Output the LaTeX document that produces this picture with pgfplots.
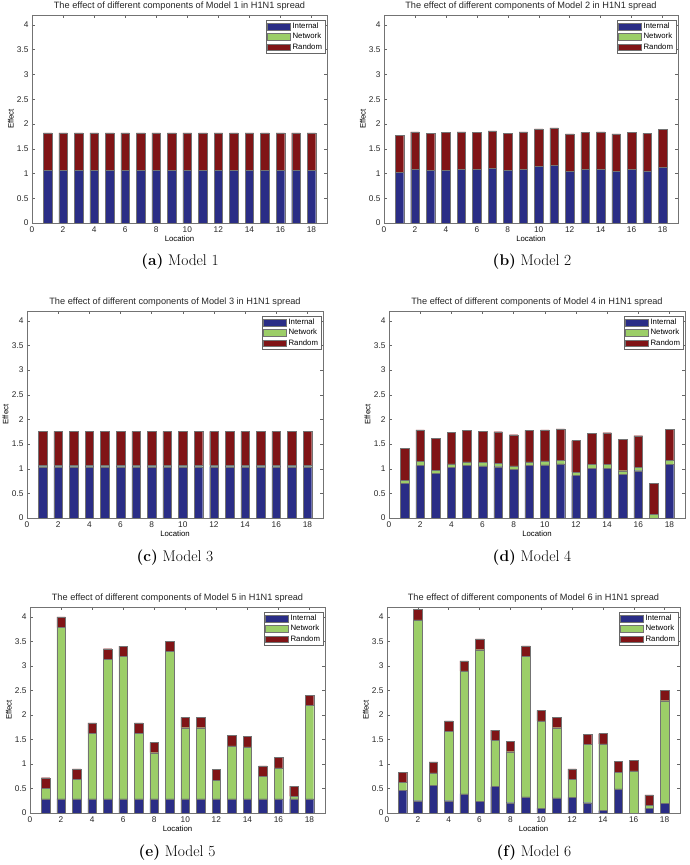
\documentclass[border=0pt]{standalone}
\usepackage{fontspec}
\usepackage{pgfplots}
\usepackage{pgfplotstable}
\pgfplotsset{compat=1.18}
\newfontfamily\arialfont{Liberation Sans}

\definecolor{cint}{RGB}{42,45,134}
\definecolor{cnet}{RGB}{156,206,104}
\definecolor{crnd}{RGB}{128,20,22}

% segment heights: internal, network, random
\pgfplotstableread{
x int net rnd
1 1.07 0 0.75
2 1.07 0 0.75
3 1.07 0 0.75
4 1.07 0 0.75
5 1.07 0 0.75
6 1.07 0 0.75
7 1.07 0 0.75
8 1.07 0 0.75
9 1.07 0 0.75
10 1.07 0 0.75
11 1.07 0 0.75
12 1.07 0 0.75
13 1.07 0 0.75
14 1.07 0 0.75
15 1.07 0 0.75
16 1.07 0 0.75
17 1.07 0 0.75
18 1.07 0 0.75
}\mA
\pgfplotstableread{
x int net rnd
1 1.02 0 0.75
2 1.09 0 0.75
3 1.06 0 0.75
4 1.07 0 0.76
5 1.09 0 0.75
6 1.08 0 0.75
7 1.10 0 0.76
8 1.06 0 0.75
9 1.09 0 0.75
10 1.14 0 0.76
11 1.16 0 0.76
12 1.04 0 0.76
13 1.08 0 0.75
14 1.09 0 0.75
15 1.04 0 0.76
16 1.08 0 0.75
17 1.05 0 0.76
18 1.13 0 0.76
}\mB
\pgfplotstableread{
x int net rnd
1 1.04 0.03 0.69
2 1.04 0.03 0.69
3 1.04 0.03 0.69
4 1.04 0.03 0.69
5 1.04 0.03 0.69
6 1.04 0.03 0.69
7 1.04 0.03 0.69
8 1.04 0.03 0.69
9 1.04 0.03 0.69
10 1.04 0.03 0.69
11 1.04 0.03 0.69
12 1.04 0.03 0.69
13 1.04 0.03 0.69
14 1.04 0.03 0.69
15 1.04 0.03 0.69
16 1.04 0.03 0.69
17 1.04 0.03 0.69
18 1.04 0.03 0.69
}\mC
\pgfplotstableread{
x int net rnd
1 0.70 0.07 0.64
2 1.07 0.08 0.64
3 0.90 0.07 0.64
4 1.03 0.07 0.64
5 1.07 0.07 0.64
6 1.06 0.07 0.63
7 1.04 0.07 0.64
8 0.99 0.07 0.63
9 1.07 0.07 0.64
10 1.08 0.08 0.63
11 1.10 0.07 0.64
12 0.86 0.07 0.64
13 1.01 0.08 0.63
14 1.01 0.08 0.64
15 0.89 0.07 0.64
16 0.96 0.07 0.64
17 0.00 0.08 0.63
18 1.09 0.08 0.63
}\mD
\pgfplotstableread{
x int net rnd
1 0.29 0.21 0.22
2 0.29 3.49 0.22
3 0.29 0.40 0.21
4 0.29 1.33 0.22
5 0.29 2.84 0.22
6 0.29 2.90 0.21
7 0.29 1.33 0.22
8 0.29 0.94 0.21
9 0.29 3.00 0.21
10 0.29 1.45 0.21
11 0.29 1.45 0.21
12 0.29 0.37 0.23
13 0.29 1.08 0.21
14 0.29 1.06 0.21
15 0.29 0.46 0.21
16 0.29 0.63 0.21
17 0.29 0.05 0.21
18 0.29 1.90 0.21
}\mE
\pgfplotstableread{
x int net rnd
1 0.46 0.16 0.21
2 0.25 3.69 0.21
3 0.56 0.26 0.22
4 0.25 1.41 0.22
5 0.39 2.51 0.20
6 0.24 3.09 0.22
7 0.54 0.94 0.21
8 0.21 1.04 0.21
9 0.33 2.87 0.21
10 0.10 1.78 0.21
11 0.31 1.43 0.21
12 0.32 0.37 0.21
13 0.21 1.19 0.21
14 0.05 1.36 0.21
15 0.49 0.34 0.22
16 0.00 0.86 0.22
17 0.10 0.05 0.22
18 0.20 2.09 0.21
}\mF

\pgfplotsset{
  effect/.style={
    scale only axis, anchor=south west,
    ybar stacked, bar width=0.55,
    xmin=0, xmax=19, ymin=0, ymax=4.2,
    xtick={0,2,4,6,8,10,12,14,16,18},
    ytick={0,0.5,1,1.5,2,2.5,3,3.5,4},
    tick pos=both, tick align=inside, major tick length=3pt,
    tick style={black!60, line width=0.4pt},
    axis line style={black!55, line width=0.5pt},
    ticklabel style={font=\arialfont\fontsize{8.3}{10}\selectfont, text=black!85},
    /pgf/number format/assume math mode=true,
    yticklabel style={/pgf/number format/fixed},
    every axis title shift=1pt,
    title style={font=\arialfont\fontsize{9.2}{11}\selectfont, text=black!85},
    xlabel={Location}, ylabel={Effect},
    xlabel style={font=\arialfont\fontsize{7.8}{9}\selectfont, at={(axis description cs:0.5,-0.077)}, anchor=center},
    ylabel style={font=\arialfont\fontsize{7.8}{9}\selectfont, at={(axis description cs:-0.072,0.5)}, anchor=center},
    legend style={font=\arialfont\fontsize{7.8}{9}\selectfont, at={(0.994,0.976)}, anchor=north east,
      draw=black!60, inner sep=1pt, row sep=-1pt},
    legend cell align=left,
    legend image code/.code={\draw[#1] (0pt,-3.3pt) rectangle (23pt,3.3pt);},
  },
  pint/.style={fill=cint, draw=black!55, line width=0.3pt},
  pnet/.style={fill=cnet, draw=black!55, line width=0.3pt},
  prnd/.style={fill=crnd, draw=black!55, line width=0.3pt},
}

\begin{document}
\begin{tikzpicture}
\useasboundingbox (0,0) rectangle (689pt,865pt);

\begin{axis}[effect, at={(32pt,642pt)}, width=295pt, height=208pt,
  title={The effect of different components of Model 1 in H1N1 spread}]
\addplot[pint] table[x=x,y=int]{\mA};
\addplot[pnet] table[x=x,y=net]{\mA};
\addplot[prnd] table[x=x,y=rnd]{\mA};
\legend{Internal,Network,Random}
\end{axis}

\begin{axis}[effect, at={(384pt,642pt)}, width=294pt, height=208pt,
  title={The effect of different components of Model 2 in H1N1 spread}]
\addplot[pint] table[x=x,y=int]{\mB};
\addplot[pnet] table[x=x,y=net]{\mB};
\addplot[prnd] table[x=x,y=rnd]{\mB};
\legend{Internal,Network,Random}
\end{axis}

\begin{axis}[effect, at={(27pt,347pt)}, width=296pt, height=207pt,
  title={The effect of different components of Model 3 in H1N1 spread}]
\addplot[pint] table[x=x,y=int]{\mC};
\addplot[pnet] table[x=x,y=net]{\mC};
\addplot[prnd] table[x=x,y=rnd]{\mC};
\legend{Internal,Network,Random}
\end{axis}

\begin{axis}[effect, at={(389pt,347pt)}, width=296pt, height=207pt,
  title={The effect of different components of Model 4 in H1N1 spread}]
\addplot[pint] table[x=x,y=int]{\mD};
\addplot[pnet] table[x=x,y=net]{\mD};
\addplot[prnd] table[x=x,y=rnd]{\mD};
\legend{Internal,Network,Random}
\end{axis}

\begin{axis}[effect, at={(30pt,52pt)}, width=295pt, height=206pt,
  title={The effect of different components of Model 5 in H1N1 spread}]
\addplot[pint] table[x=x,y=int]{\mE};
\addplot[pnet] table[x=x,y=net]{\mE};
\addplot[prnd] table[x=x,y=rnd]{\mE};
\legend{Internal,Network,Random}
\end{axis}

\begin{axis}[effect, at={(387pt,52pt)}, width=293pt, height=206pt,
  title={The effect of different components of Model 6 in H1N1 spread}]
\addplot[pint] table[x=x,y=int]{\mF};
\addplot[pnet] table[x=x,y=net]{\mF};
\addplot[prnd] table[x=x,y=rnd]{\mF};
\legend{Internal,Network,Random}
\end{axis}

\begin{scope}[every node/.style={font=\fontsize{15.5}{18}\selectfont}]
\node at (180pt,603pt) {\textbf{(a)} Model 1};
\node at (532pt,603pt) {\textbf{(b)} Model 2};
\node at (175pt,307pt) {\textbf{(c)} Model 3};
\node at (532pt,307pt) {\textbf{(d)} Model 4};
\node at (177pt,12pt) {\textbf{(e)} Model 5};
\node at (534pt,12pt) {\textbf{(f)} Model 6};
\end{scope}
\end{tikzpicture}
\end{document}
